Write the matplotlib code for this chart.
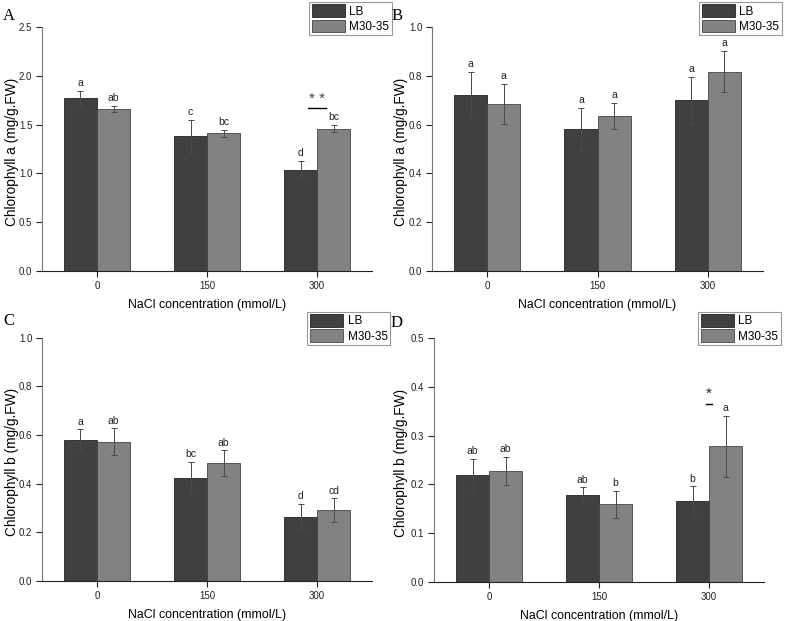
import matplotlib
matplotlib.use("Agg")
import matplotlib.pyplot as plt
import numpy as np

plt.rcParams['font.family'] = ['Liberation Sans', 'DejaVu Sans']

concentrations = ["0", "150", "300"]
series_names = ["LB", "M30-35"]

# panel A: chlorophyll a
chla_lb = [1.77, 1.38, 1.04]
chla_lb_err = [0.075, 0.17, 0.09]
chla_m30 = [1.66, 1.41, 1.46]
chla_m30_err = [0.034, 0.034, 0.04]
chla_lb_letters = ["a", "c", "d"]
chla_m30_letters = ["ab", "bc", "bc"]

# panel B: chlorophyll a
chla2_lb = [0.72, 0.58, 0.70]
chla2_lb_err = [0.097, 0.089, 0.097]
chla2_m30 = [0.684, 0.635, 0.817]
chla2_m30_err = [0.082, 0.053, 0.085]
chla2_lb_letters = ["a", "a", "a"]
chla2_m30_letters = ["a", "a", "a"]

# panel C: chlorophyll b
chlb_lb = [0.581, 0.421, 0.264]
chlb_lb_err = [0.042, 0.067, 0.052]
chlb_m30 = [0.572, 0.483, 0.291]
chlb_m30_err = [0.055, 0.053, 0.048]
chlb_lb_letters = ["a", "bc", "d"]
chlb_m30_letters = ["ab", "ab", "cd"]

# panel D: chlorophyll b
chlb2_lb = [0.220, 0.178, 0.167]
chlb2_lb_err = [0.033, 0.016, 0.029]
chlb2_m30 = [0.228, 0.159, 0.278]
chlb2_m30_err = [0.029, 0.027, 0.063]
chlb2_lb_letters = ["ab", "ab", "b"]
chlb2_m30_letters = ["ab", "b", "a"]

LB_COLOR = "#404040"
M30_COLOR = "#828282"
ERR_COLOR = "#4a4a4a"


def draw_panel(ax, lb, lb_err, m30, m30_err, lb_let, m30_let, ymax, ystep, ylabel, ylab_x):
    x = np.arange(len(concentrations))
    w = 0.3
    ax.bar(x - w / 2, lb, w, color=LB_COLOR, edgecolor="#222222", linewidth=0.6, label=series_names[0])
    ax.bar(x + w / 2, m30, w, color=M30_COLOR, edgecolor="#444444", linewidth=0.6, label=series_names[1])
    ax.errorbar(x - w / 2, lb, yerr=lb_err, fmt="none", ecolor=ERR_COLOR, elinewidth=0.7, capsize=2.2, capthick=0.7)
    ax.errorbar(x + w / 2, m30, yerr=m30_err, fmt="none", ecolor=ERR_COLOR, elinewidth=0.7, capsize=2.2, capthick=0.7)
    for i in range(len(x)):
        ax.annotate(lb_let[i], (x[i] - w / 2, lb[i] + lb_err[i]), xytext=(0, 2), textcoords="offset points",
                    ha="center", va="bottom", fontsize=7.5, color="#222222")
        ax.annotate(m30_let[i], (x[i] + w / 2, m30[i] + m30_err[i]), xytext=(0, 2), textcoords="offset points",
                    ha="center", va="bottom", fontsize=7.5, color="#222222")
    ax.set_xlim(-0.5, 2.5)
    ax.set_ylim(0, ymax)
    ax.set_yticks(np.arange(0, ymax + ystep / 2, ystep))
    ax.yaxis.set_major_formatter(plt.FormatStrFormatter("%.1f"))
    ax.set_xticks(x)
    ax.set_xticklabels(concentrations)
    ax.spines["top"].set_visible(False)
    ax.spines["right"].set_visible(False)
    ax.spines["left"].set_color("#777777")
    ax.spines["bottom"].set_color("#222222")
    ax.tick_params(labelsize=7, length=4, width=0.8, pad=3, colors="#222222")
    ax.set_xlabel("NaCl concentration (mmol/L)", fontsize=8.9, labelpad=6)
    ax.set_ylabel(ylabel, fontsize=9.8, va="center")
    ax.yaxis.set_label_coords(ylab_x, 0.49)


fig = plt.figure(figsize=(7.85, 6.21), dpi=100)
ax_a = fig.add_axes([0.0535, 0.5636, 0.4204, 0.3929])
ax_b = fig.add_axes([0.5503, 0.5636, 0.4217, 0.3929])
ax_c = fig.add_axes([0.0535, 0.0644, 0.4204, 0.3921])
ax_d = fig.add_axes([0.5529, 0.0628, 0.4204, 0.3929])

draw_panel(ax_a, chla_lb, chla_lb_err, chla_m30, chla_m30_err, chla_lb_letters, chla_m30_letters,
           2.5, 0.5, "Chlorophyll a (mg/g.FW)", -0.09)
draw_panel(ax_b, chla2_lb, chla2_lb_err, chla2_m30, chla2_m30_err, chla2_lb_letters, chla2_m30_letters,
           1.0, 0.2, "Chlorophyll a (mg/g.FW)", -0.095)
draw_panel(ax_c, chlb_lb, chlb_lb_err, chlb_m30, chlb_m30_err, chlb_lb_letters, chlb_m30_letters,
           1.0, 0.2, "Chlorophyll b (mg/g.FW)", -0.09)
draw_panel(ax_d, chlb2_lb, chlb2_lb_err, chlb2_m30, chlb2_m30_err, chlb2_lb_letters, chlb2_m30_letters,
           0.5, 0.1, "Chlorophyll b (mg/g.FW)", -0.1)

# significance marks
ax_a.plot([1.92, 2.08], [1.67, 1.67], color="black", linewidth=1)
ax_a.text(2.0, 1.76, "* *", ha="center", va="center", fontsize=11, color="#444444")
ax_d.plot([1.97, 2.03], [0.364, 0.364], color="black", linewidth=1)
ax_d.text(2.0, 0.385, "*", ha="center", va="center", fontsize=11, color="#222222")

# legends and panel letters
legend_anchors = [(0.499, 0.9968), (0.9958, 0.9968), (0.4968, 0.498), (0.9946, 0.498)]
for ax, anchor in zip([ax_a, ax_b, ax_c, ax_d], legend_anchors):
    leg = ax.legend(loc="upper right", bbox_to_anchor=anchor, bbox_transform=fig.transFigure,
                    fontsize=8.5, handlelength=2.8, handleheight=1.3, handletextpad=0.4,
                    borderpad=0.2, labelspacing=0.15, borderaxespad=0, fancybox=False,
                    framealpha=1, edgecolor="#999999")
    leg.get_frame().set_linewidth(0.8)

letters = [("A", 3, 8), ("B", 392, 8), ("C", 3, 313), ("D", 391, 315)]
for lab, px, py in letters:
    fig.text(px / 785, 1 - py / 621, lab, fontsize=12, family="Liberation Serif", ha="left", va="top")

fig.savefig("out.png", dpi=100)
